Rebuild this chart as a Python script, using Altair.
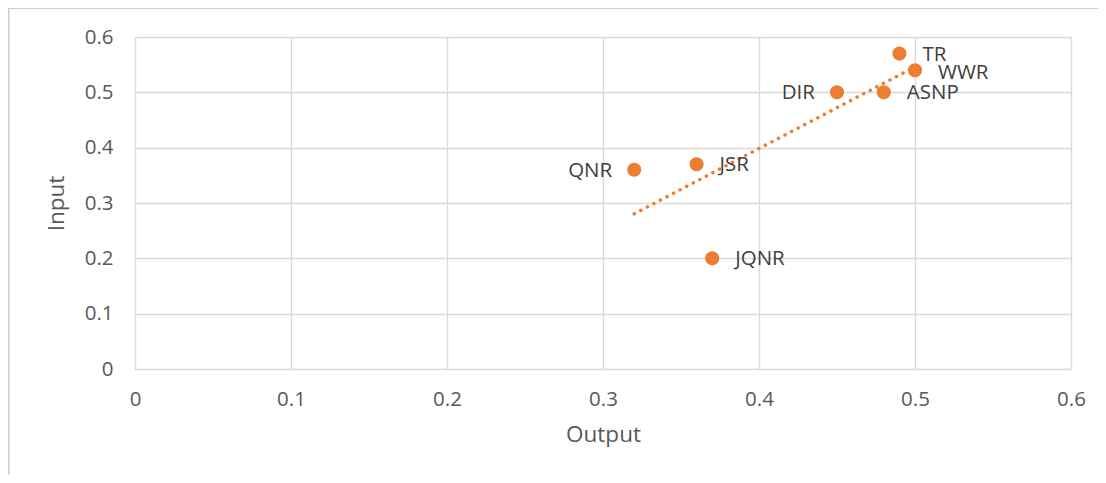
import altair as alt
import pandas as pd

labels = ["TR", "WWR", "DIR", "ASNP", "JSR", "QNR", "JQNR"]
output_vals = [0.49, 0.50, 0.45, 0.48, 0.36, 0.32, 0.37]
input_vals = [0.57, 0.54, 0.50, 0.50, 0.37, 0.36, 0.20]
label_side = ["right", "lower", "left", "right", "right", "left", "right"]
tick_vals = [0, 0.1, 0.2, 0.3, 0.4, 0.5, 0.6]

df = pd.DataFrame({"label": labels, "Output": output_vals, "Input": input_vals, "side": label_side})

ORANGE = "#ED7D31"
FONT = "Open Sans"
GRID = "#D9D9D9"

xs = alt.Scale(domain=[0, 0.6], nice=False, zero=False)
ys = alt.Scale(domain=[0, 0.6], nice=False, zero=False)
lab_expr = "datum.value == 0 ? '0' : format(datum.value, '.1f')"

x_axis = alt.Axis(values=tick_vals, labelExpr=lab_expr, title="Output", grid=True,
                  gridColor=GRID, gridWidth=1.3, domain=False, ticks=False, labelFlush=False,
                  labelOverlap=False,
                  labelFont=FONT, labelFontSize=20.5, labelColor="#595959", labelPadding=20,
                  titleFont=FONT, titleFontSize=22.5, titleFontWeight="normal", titleColor="#595959",
                  titlePadding=14)
y_axis = alt.Axis(values=tick_vals, labelExpr=lab_expr, title="Input", grid=True,
                  gridColor=GRID, gridWidth=1.3, domain=False, ticks=False, labelFlush=False,
                  labelOverlap=False,
                  labelFont=FONT, labelFontSize=20.5, labelColor="#595959", labelPadding=22,
                  titleFont=FONT, titleFontSize=22.5, titleFontWeight="normal", titleColor="#595959",
                  titlePadding=16)

base = alt.Chart(df)

points = base.mark_circle(size=200, color=ORANGE, opacity=1).encode(
    x=alt.X("Output:Q", scale=xs, axis=x_axis),
    y=alt.Y("Input:Q", scale=ys, axis=y_axis),
)

trend = base.transform_regression("Output", "Input").mark_line(
    color=ORANGE, strokeWidth=3.5, strokeDash=[0.1, 7.3], strokeCap="round"
).encode(x=alt.X("Output:Q", scale=xs), y=alt.Y("Input:Q", scale=ys))

enc = dict(x=alt.X("Output:Q", scale=xs), y=alt.Y("Input:Q", scale=ys), text="label:N")

right_lab = base.transform_filter("datum.side == 'right'").mark_text(
    align="left", baseline="middle", dx=23, dy=1, font=FONT, fontSize=20.5, color="#404040"
).encode(**enc)

lower_lab = base.transform_filter("datum.side == 'lower'").mark_text(
    align="left", baseline="middle", dx=23, dy=3, font=FONT, fontSize=20.5, color="#404040"
).encode(**enc)

left_lab = base.transform_filter("datum.side == 'left'").mark_text(
    align="right", baseline="middle", dx=-22, dy=1, font=FONT, fontSize=20.5, color="#404040"
).encode(**enc)

frame_top = alt.Chart(df).mark_rule(color="#D0D0D0", strokeWidth=1.2).encode(
    x=alt.value(-127), x2=alt.value(1000), y=alt.value(-28.5)
)
frame_left = alt.Chart(df).mark_rule(color="#D0D0D0", strokeWidth=1.2).encode(
    x=alt.value(-126.5), y=alt.value(-29), y2=alt.value(500)
)

chart = alt.layer(trend, points, right_lab, lower_lab, left_lab, frame_top, frame_left).properties(
    width=936, height=332,
    autosize=alt.AutoSizeParams(type="none"),
    padding={"left": 127, "top": 29, "right": 27, "bottom": 106},
).configure_view(stroke=None)

chart.save("out.html", embed_options={"renderer": "svg", "actions": False})
